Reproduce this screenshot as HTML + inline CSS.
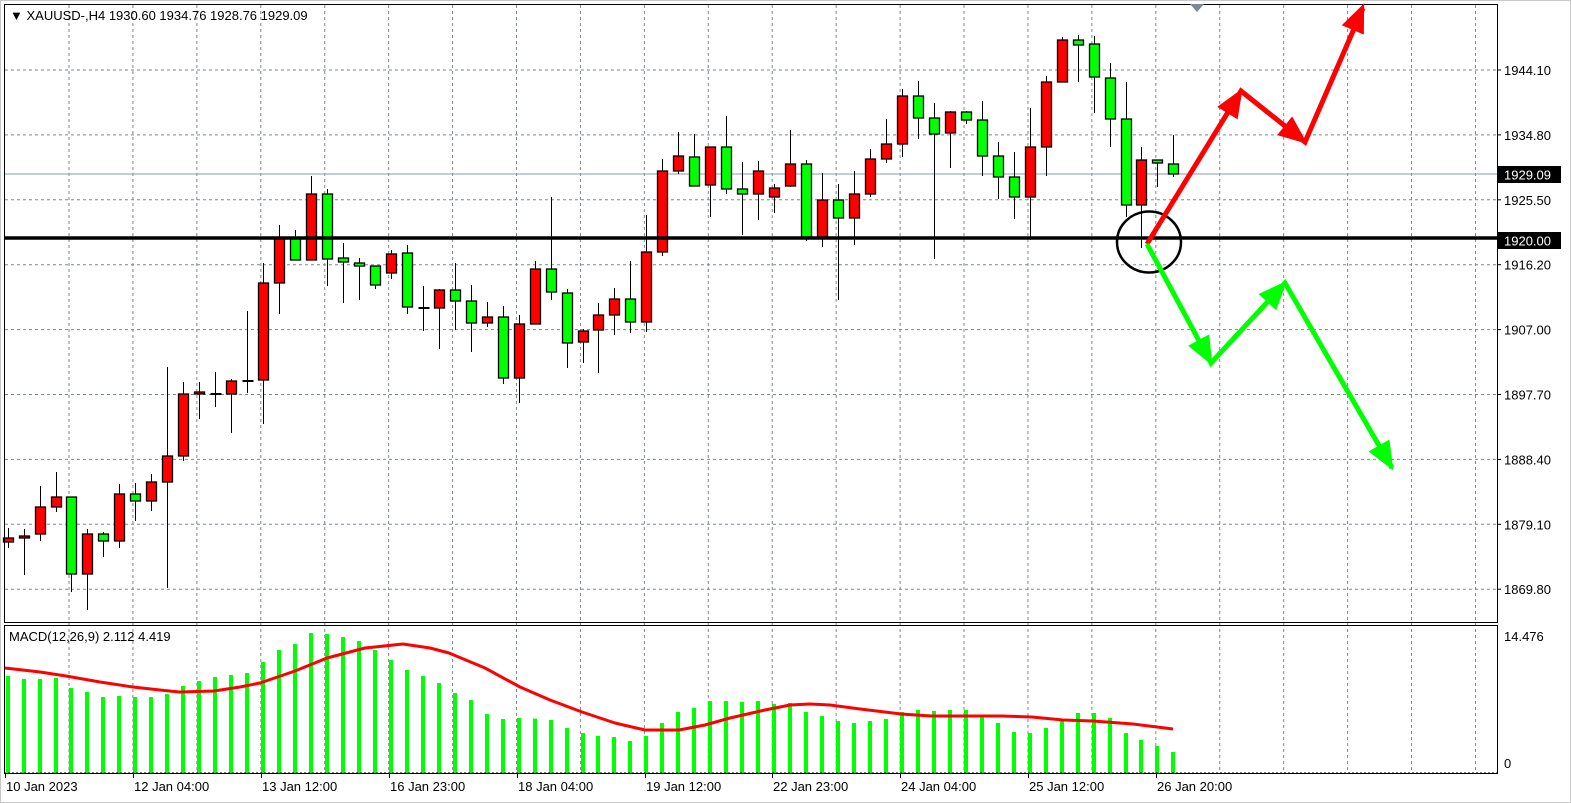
<!DOCTYPE html>
<html><head><meta charset="utf-8"><style>
html,body{margin:0;padding:0;background:#fff;}
svg{display:block;font-family:"Liberation Sans",sans-serif;}
</style></head><body>
<svg id="s" width="1571" height="803" viewBox="0 0 1571 803" xmlns="http://www.w3.org/2000/svg">
<rect x="0" y="0" width="1571" height="803" fill="#fff"/>
<rect x="0.5" y="0.5" width="1570" height="802" fill="none" stroke="#c8c8c8"/>
<g id="grid"></g>
<line x1="4" y1="174" x2="1497" y2="174" stroke="#8899aa" stroke-width="1"/>
<g id="candles"></g>
<line x1="4" y1="238" x2="1497" y2="238" stroke="#000" stroke-width="3.5"/>
<g id="macd"></g>
<rect x="4.5" y="4.5" width="1493" height="618" fill="none" stroke="#000" stroke-width="1"/>
<rect x="4.5" y="625.5" width="1493" height="148" fill="none" stroke="#000" stroke-width="1"/>
<line x1="4" y1="773" x2="1497" y2="773" stroke="#000" stroke-width="1" stroke-dasharray="2,2"/>
<polygon points="1190,4 1204,4 1197,12" fill="#7a8895"/>
<ellipse cx="1149" cy="242" rx="32" ry="30.5" fill="none" stroke="#000" stroke-width="2.5"/>
<g stroke="#ff0000" stroke-width="5" fill="none">
<polyline points="1147,244 1241,91 1305,142 1363,8"/>
</g>
<g stroke="#00ff00" stroke-width="5" fill="none">
<polyline points="1147,244 1211,363 1285,283 1392,468"/>
</g>
<g id="heads"></g>
<text x="10" y="20" font-size="13" fill="#000">&#9660; XAUUSD-,H4  1930.60 1934.76 1928.76 1929.09</text>
<text x="9" y="641" font-size="13" fill="#000">MACD(12,26,9) 2.112 4.419</text>
<g id="axis" font-size="13" fill="#000"></g>
<rect x="1498" y="166" width="63" height="17" fill="#000"/>
<text x="1504" y="179.5" font-size="13" fill="#fff">1929.09</text>
<rect x="1498" y="232" width="63" height="17" fill="#000"/>
<text x="1504" y="245.5" font-size="13" fill="#fff">1920.00</text>
<text x="1504" y="641" font-size="13">14.476</text>
<text x="1504" y="768" font-size="13">0</text>
<g id="time" font-size="13"></g>
</svg>
<script>
var NS="http://www.w3.org/2000/svg";
function el(p,t,a,txt){var e=document.createElementNS(NS,t);for(var k in a)e.setAttribute(k,a[k]);if(txt!==undefined)e.textContent=txt;document.getElementById(p).appendChild(e);return e;}
for(var k=-1;k<=8;k++){var y=70+64.9*k;if(y<6)continue;el("grid","line",{x1:5,y1:y,x2:1497,y2:y,stroke:"#7a8895","stroke-dasharray":"3,3"});}
for(var k=0;k<23;k++){var x=69+63.93*k;if(x>1490)break;el("grid","line",{x1:x,y1:5,x2:x,y2:773,stroke:"#7a8895","stroke-dasharray":"3,3"});}
var pl=["1944.10","1934.80","1925.50","1916.20","1907.00","1897.70","1888.40","1879.10","1869.80"];
for(var k=0;k<pl.length;k++){var y=70+64.9*k;el("axis","line",{x1:1497,y1:y,x2:1501,y2:y,stroke:"#000"});el("axis","text",{x:1504,y:y+5},pl[k]);}
var C=[
["r",538,542,528,548],["r",536,538,529,575],["r",507,534,486,541],["r",497,507,472,512],["g",497,574,497,592],
["r",534,574,529,610],["g",534,541,532,557],["r",494,541,484,548],["g",494,501,483,521],["r",482,501,474,511],
["r",456,482,367,588],["r",394,456,382,461],["r",392,394,382,419],["d",394,394,372,407],["r",381,394,379,433],
["d",381,381,311,393],["r",283,380,263,424],["r",238,283,225,314],["g",238,260,230,260],["r",194,260,176,260],
["g",194,259,189,286],["g",258,262,243,303],["g",263,266,258,300],["g",266,285,266,289],["r",254,273,250,279],
["g",253,307,245,314],["d",308,308,286,331],["r",290,308,289,349],["g",290,301,263,330],["g",301,323,285,352],
["r",317,323,302,327],["g",317,378,306,384],["r",324,378,315,403],["r",269,324,261,324],["g",269,292,197,300],
["g",293,343,289,368],["r",331,342,329,363],["r",315,330,303,373],["r",299,315,288,335],["g",299,322,261,333],
["r",252,322,215,332],["r",171,252,159,256],["r",156,171,132,174],["g",157,186,134,186],["r",147,185,147,217],
["g",147,189,116,194],["g",189,194,162,235],["r",171,194,161,220],["r",188,197,184,213],["r",164,186,130,187],
["g",164,237,160,241],["r",200,237,173,247],["g",200,218,184,300],["r",194,218,171,245],["r",159,194,149,197],
["r",144,159,119,163],["r",96,144,89,157],["g",96,118,81,139],["g",118,134,103,259],["r",112,133,111,168],
["g",112,120,111,124],["g",120,156,101,176],["g",156,177,142,199],["g",177,197,152,219],["r",147,197,108,240],
["r",82,147,76,176],["r",40,82,37,82],["g",40,45,35,82],["g",44,77,36,113],["g",78,119,63,147],
["g",119,205,82,217],["r",160,205,147,248],["g",160,163,160,187],["g",164,174,135,177]];
for(var i=0;i<C.length;i++){var c=C[i],x=Math.round(7.6+15.97*i)+0.5;
el("candles","line",{x1:x,y1:c[3],x2:x,y2:c[4],stroke:"#000"});
if(c[0]=="d"){el("candles","line",{x1:x-5,y1:c[1],x2:x+6,y2:c[1],stroke:"#000","stroke-width":2});}
else{var h=Math.max(c[2]-c[1],2);el("candles","rect",{x:x-5,y:c[1],width:10,height:h,fill:c[0]=="r"?"#ff0000":"#00ff00",stroke:"#000","stroke-width":1.3});}}
var B=[228,237,237,234,264,276,291,288,291,291,282,258,243,231,225,219,186,150,132,99,102,111,123,150,180,210,228,249,279,300,342,357,354,356,360,384,399,408,411,423,408,369,336,324,303,303,306,303,312,309,336,348,363,369,363,357,336,330,333,330,330,348,369,396,399,384,363,339,339,354,399,420,438,456];
for(var i=0;i<B.length;i++){var x=Math.round(7.6+15.97*i);var t=600+B[i]/3;el("macd","rect",{x:x-2,y:t,width:4,height:773-t,fill:"#00ff00"});}
var S=[[5,668],[40,672],[66,676],[100,682],[133,687],[160,690],[179,692],[214,691],[240,687],[260,683],[295,671],[327,658],[365,648],[403,644],[430,648],[449,653],[485,668],[520,687],[550,700],[582,712],[615,723],[645,730],[679,730],[705,725],[730,718],[765,710],[790,705],[810,704],[830,705],[860,709],[901,714],[931,716],[1002,716],[1032,717],[1063,720],[1093,721],[1133,724],[1173,729]];
el("macd","polyline",{points:S.map(function(p){return p.join(",")}).join(" "),fill:"none",stroke:"#ff0000","stroke-width":3,"stroke-linejoin":"round"});
function head(x1,y1,x2,y2,col){var dx=x2-x1,dy=y2-y1,L=Math.sqrt(dx*dx+dy*dy);dx/=L;dy/=L;var len=26,w=12;
var bx=x2-dx*len,by=y2-dy*len;var p=[[x2+dx*3,y2+dy*3],[bx-dy*w,by+dx*w],[bx+dy*w,by-dx*w]];
el("heads","polygon",{points:p.map(function(q){return q.join(",")}).join(" "),fill:col});}
head(1147,244,1241,91,"#ff0000");head(1241,91,1305,142,"#ff0000");head(1305,142,1363,6,"#ff0000");
head(1147,244,1211,363,"#00ff00");head(1211,363,1285,283,"#00ff00");head(1285,283,1392,468,"#00ff00");
var T=[[5,"10 Jan 2023"],[133,"12 Jan 04:00"],[261,"13 Jan 12:00"],[389,"16 Jan 23:00"],[517,"18 Jan 04:00"],[645,"19 Jan 12:00"],[772,"22 Jan 23:00"],[900,"24 Jan 04:00"],[1028,"25 Jan 12:00"],[1156,"26 Jan 20:00"]];
for(var i=0;i<T.length;i++){el("time","line",{x1:T[i][0]+0.5,y1:773,x2:T[i][0]+0.5,y2:778,stroke:"#000"});el("time","text",{x:T[i][0]+1,y:791},T[i][1]);}
</script>
</body></html>
